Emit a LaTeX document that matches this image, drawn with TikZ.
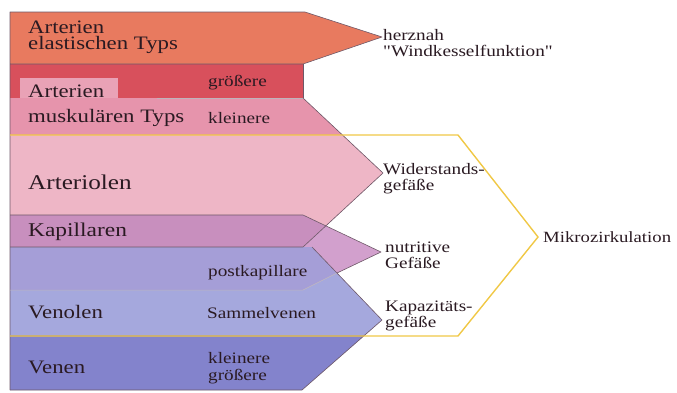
\documentclass[tikz,border=0pt]{standalone}
\usepackage{fontspec}
\setmainfont[FakeStretch=1.2]{Liberation Serif}
\newfontfamily\rawquote[FakeStretch=1.2,Ligatures=TeXOff]{Liberation Serif}
\definecolor{elastc}{HTML}{E87A5F}
\definecolor{grossc}{HTML}{D8505C}
\definecolor{kleinc}{HTML}{E694AC}
\definecolor{tabc}{HTML}{E9A2B6}
\definecolor{arteriolc}{HTML}{EEB6C6}
\definecolor{kapc}{HTML}{C88FBE}
\definecolor{nutric}{HTML}{D2A0CD}
\definecolor{postc}{HTML}{A59ED7}
\definecolor{venolc}{HTML}{A5A8DD}
\definecolor{venenc}{HTML}{8383CC}
\definecolor{edgec}{HTML}{6E5868}
\definecolor{yel}{HTML}{F0C846}
\definecolor{txt}{HTML}{2A1A22}
\begin{document}
\begin{tikzpicture}[x=1pt,y=-1pt,
  edge/.style={draw=edgec,line width=0.6pt,line join=round},
  faint/.style={draw=edgec!45,line width=0.5pt},
  lbl/.style={anchor=base west,inner sep=0pt,align=left,text=txt},
  big/.style={lbl,font=\fontsize{19}{16}\selectfont},
  small/.style={lbl,font=\fontsize{16}{16}\selectfont}]
\useasboundingbox (0,0) rectangle (677,392);
% fills
\fill[elastc] (10,12) -- (305,12) -- (382,37) -- (303,64) -- (10,64) -- cycle;
\fill[grossc] (10,64) rectangle (303,98);
\fill[kleinc] (10,98) -- (303,98) -- (342.5,135) -- (10,135) -- cycle;
\fill[tabc] (20,78) rectangle (118,98);
\fill[arteriolc] (10,135) -- (342.5,135) -- (383,173) -- (326,226) -- (303,215) -- (10,215) -- cycle;
\fill[kapc] (10,215) -- (303,215) -- (326,226) -- (303,247) -- (10,247) -- cycle;
\fill[nutric] (326,226) -- (381,252) -- (337,273) -- (312,247) -- (303,247) -- cycle;
\fill[postc] (10,247) -- (312,247) -- (337,273) -- (303,290) -- (10,290) -- cycle;
\fill[venolc] (10,290) -- (303,290) -- (337,273) -- (382,320) -- (365,335) -- (10,335) -- cycle;
\fill[venenc] (10,335) -- (365,335) -- (302,390) -- (10,390) -- cycle;
% outlines
\draw[edge] (10,390) -- (10,12) -- (305,12) -- (382,37) -- (303,64) -- (10,64);
\draw[edge] (303,64) -- (303,98);
\draw[faint] (157,98) -- (303,98);
\draw[edge] (303,98) -- (383,173) -- (303,247) -- (10,247);
\draw[edge] (10,215) -- (303,215) -- (381,252) -- (337,273);
\draw[faint] (337,273) -- (303,290) -- (10,290);
\draw[edge] (312,247) -- (382,320) -- (302,390) -- (10,390);
% yellow outline
\draw[yel,line width=1.4pt,line join=miter] (10,135) -- (458,135) -- (538,237) -- (458,336) -- (10,336);
% labels (multi-line nodes: base = baseline of last line)
\node[big] (elast) at (28,49) {Arterien\\elastischen Typs};
\node[big,font=\fontsize{19}{25}\selectfont] (musk) at (28,122) {Arterien\\muskulären Typs};
\node[big,font=\fontsize{21}{16}\selectfont] (arteriol) at (28,189) {Arteriolen};
\node[big,font=\fontsize{19.5}{16}\selectfont] (kap) at (28,236) {Kapillaren};
\node[big] (venol) at (28,318) {Venolen};
\node[big] (venen) at (28,373) {Venen};
\node[small] (gross) at (208,86) {größere};
\node[small] (klein) at (208,123) {kleinere};
\node[small] (postk) at (208,276) {postkapillare};
\node[small] (sammel) at (207,318) {Sammelvenen};
\node[small,font=\fontsize{16}{17}\selectfont] (vgross) at (208,380) {kleinere\\größere};
\node[small,font=\rawquote\fontsize{16}{16}\selectfont] (herz) at (383,56) {herznah\\"Windkesselfunktion"};
\node[small] (wider) at (383,190) {Widerstands-\\gefäße};
\node[small] (nutri) at (385,268) {nutritive\\Gefäße};
\node[small] (kapaz) at (385,327) {Kapazitäts-\\gefäße};
\node[lbl,font=\fontsize{15.6}{16}\selectfont] (mikro) at (543,242) {Mikrozirkulation};
\end{tikzpicture}
\end{document}
